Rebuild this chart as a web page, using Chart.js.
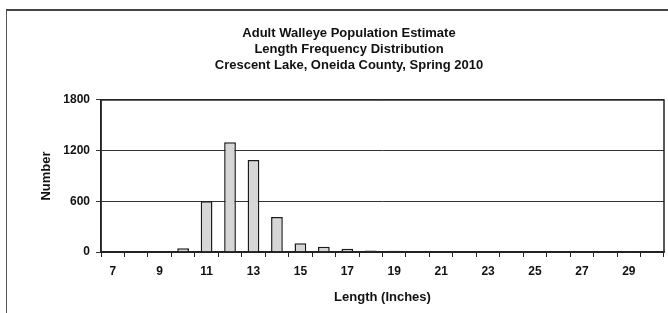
<!DOCTYPE html>
<html>
<head>
<meta charset="utf-8">
<script src="https://cdn.jsdelivr.net/npm/chart.js@4/dist/chart.umd.min.js"></script>
<style>
  html, body { margin: 0; padding: 0; background: #fff; }
  #wrap { position: relative; width: 668px; height: 313px; overflow: hidden; }
  #frame { position: absolute; left: 6px; top: 9px; width: 700px; height: 400px;
           border-left: 1px solid #555; border-top: 2px solid #444; box-sizing: border-box; }
  canvas { position: absolute; left: 0; top: 0; }
</style>
</head>
<body>
<div id="wrap">
  <div id="frame"></div>
  <canvas id="grafico" width="668" height="313"></canvas>
</div>
<script>
  // Comprimento (polegadas) e numero de peixes
  const comprimentos = [7, 8, 9, 10, 11, 12, 13, 14, 15, 16, 17, 18, 19, 20, 21, 22, 23, 24, 25, 26, 27, 28, 29, 30];
  const numero = [0, 0, 0, 45, 600, 1300, 1088, 415, 105, 62, 38, 18, 14, 8, 4, 4, 6, 4, 3, 2, 2, 1, 1, 0];
  const yTicks = [0, 600, 1200, 1800];
  const titulo = ['Adult Walleye Population Estimate', 'Length Frequency Distribution', 'Crescent Lake, Oneida County, Spring 2010'];

  const fonte = 'Arial, "Liberation Sans", sans-serif';

  // moldura da area do grafico
  const bordaArea = {
    id: 'bordaArea',
    afterDraw(chart) {
      const a = chart.chartArea;
      const ctx = chart.ctx;
      ctx.save();
      ctx.strokeStyle = '#222';
      ctx.lineWidth = 1.5;
      ctx.strokeRect(a.left, a.top, a.right - a.left, a.bottom - a.top);
      ctx.restore();
    }
  };

  new Chart(document.getElementById('grafico').getContext('2d'), {
    type: 'bar',
    data: {
      labels: comprimentos.map(String),
      datasets: [{
        data: numero,
        backgroundColor: '#d6d6d6',
        borderColor: '#1a1a1a',
        borderWidth: 1.5,
        barPercentage: 0.5,
        categoryPercentage: 1
      }]
    },
    options: {
      responsive: false,
      animation: false,
      layout: { padding: { left: 34, right: 4, top: 25, bottom: 8 } },
      plugins: {
        legend: { display: false },
        tooltip: { enabled: false },
        title: {
          display: true,
          text: titulo,
          color: '#111',
          font: { family: fonte, size: 13, weight: 'bold', lineHeight: 1.23 },
          padding: { top: 0, bottom: 27 }
        }
      },
      scales: {
        x: {
          grid: { display: true, drawOnChartArea: false, drawTicks: true, tickLength: 5, color: '#222', offset: true },
          border: { display: true, color: '#222', width: 1.5 },
          ticks: {
            autoSkip: false,
            maxRotation: 0,
            padding: 7,
            color: '#111',
            font: { family: fonte, size: 12, weight: 'bold' },
            callback: function (v, i) {
              const c = comprimentos[i];
              return (c % 2 === 1) ? String(c) : '';
            }
          },
          title: {
            display: true,
            text: 'Length (Inches)',
            color: '#111',
            font: { family: fonte, size: 13, weight: 'bold' },
            padding: { top: 4, bottom: 0 }
          }
        },
        y: {
          min: 0,
          max: 1800,
          afterBuildTicks: function (scale) {
            scale.ticks = yTicks.map(v => ({ value: v }));
          },
          afterFit: function (scale) { scale.width = 67; },
          grid: { color: '#333', lineWidth: 1, tickLength: 5, drawTicks: true },
          border: { display: true, color: '#222', width: 1.5 },
          ticks: {
            padding: 6,
            color: '#111',
            font: { family: fonte, size: 12, weight: 'bold' },
            callback: function (v) { return String(v); }
          },
          title: {
            display: true,
            text: 'Number',
            color: '#111',
            font: { family: fonte, size: 13, weight: 'bold' },
            padding: { top: 5, bottom: 0 }
          }
        }
      }
    },
    plugins: [bordaArea]
  });
</script>
</body>
</html>
